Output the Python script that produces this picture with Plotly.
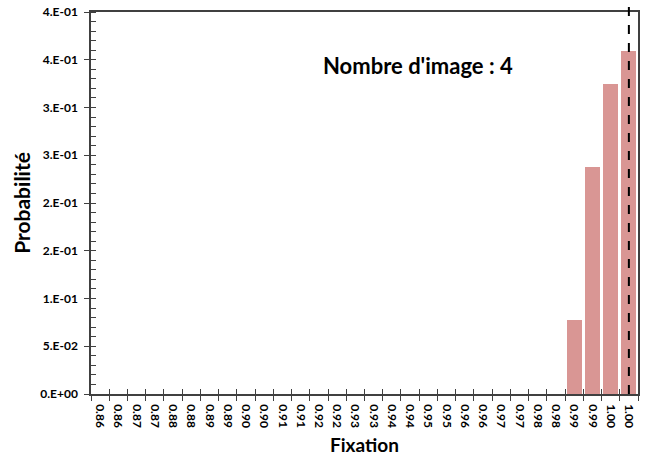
import plotly.graph_objects as go

# ---- data ----
fixation = [0.855 + 0.005 * i for i in range(30)]
fixation_labels = ["0.86", "0.86", "0.87", "0.87", "0.88", "0.88", "0.89", "0.89",
                   "0.90", "0.90", "0.91", "0.91", "0.92", "0.92", "0.93", "0.93",
                   "0.94", "0.94", "0.95", "0.95", "0.96", "0.96", "0.97", "0.97",
                   "0.98", "0.98", "0.99", "0.99", "1.00", "1.00"]
probabilite = [0.0] * 26 + [0.078, 0.2375, 0.325, 0.3595]
y_tickvals = [0, 0.05, 0.10, 0.15, 0.20, 0.25, 0.30, 0.35, 0.40]
y_ticktext = ["0.E+00", "5.E-02", "1.E-01", "2.E-01", "2.E-01", "3.E-01", "3.E-01", "4.E-01", "4.E-01"]
reference_fixation = 1.0
annotation_text = "Nombre d'image : 4"

step = 0.005
x_range = [fixation[0] - step / 2, fixation[-1] + step / 2]
boundaries = [fixation[0] - step / 2 + step * i for i in range(len(fixation) + 1)]

FONT = "Lato"
AX = "#404040"

fig = go.Figure()
fig.add_trace(go.Bar(x=fixation, y=probabilite, width=step * 0.82,
                     marker=dict(color="#d99694", line=dict(width=0)),
                     showlegend=False, hoverinfo="x+y"))
# invisible trace to anchor overlay axes
fig.add_trace(go.Scatter(x=[x_range[0]], y=[0], xaxis="x2", yaxis="y2",
                         mode="markers", marker=dict(opacity=0), showlegend=False,
                         hoverinfo="skip"))

fig.add_shape(type="line", xref="x", yref="paper", x0=reference_fixation, x1=reference_fixation,
              y0=0, y1=1.014, line=dict(color="black", width=2, dash="dash"))

fig.add_annotation(text=annotation_text, xref="paper", yref="paper", x=0.597, y=0.859,
                   xanchor="center", yanchor="middle",
                   showarrow=False, font=dict(family=FONT, size=22, color="black", weight="bold"))

fig.update_layout(
    width=650, height=463,
    margin=dict(l=91, r=12, t=12, b=69, autoexpand=False),
    paper_bgcolor="white", plot_bgcolor="white",
    bargap=0,
    xaxis=dict(range=x_range, tickmode="array", tickvals=fixation, ticktext=fixation_labels,
               tickangle=90, ticks="", showgrid=False, zeroline=False, automargin=False,
               ticklabelstandoff=6,
               showline=True, linecolor=AX, linewidth=1.5, mirror=True,
               tickfont=dict(family=FONT, size=12, color="black", weight="bold"),
               minor=dict(tickmode="array", tickvals=boundaries, ticks="outside", ticklen=5,
                          tickcolor=AX, tickwidth=1.2, showgrid=False),
               title=dict(text="Fixation", standoff=12,
                          font=dict(family=FONT, size=19, color="black", weight="bold"))),
    yaxis=dict(range=[0, 0.4], tickmode="array", tickvals=y_tickvals, ticktext=y_ticktext,
               ticks="outside", ticklen=5, tickcolor=AX, tickwidth=1.2,
               showgrid=False, zeroline=False, automargin=False, ticklabelstandoff=4,
               showline=True, linecolor=AX, linewidth=1.5, mirror=True,
               tickfont=dict(family=FONT, size=12, color="black", weight="bold"),
               minor=dict(dtick=0.01, tick0=0, ticks="inside", ticklen=5, tickcolor=AX,
                          tickwidth=1, showgrid=False),
               title=dict(text="Probabilité", standoff=4,
                          font=dict(family=FONT, size=21, color="black", weight="bold"))),
    xaxis2=dict(overlaying="x", anchor="y", side="bottom", range=x_range,
                tickmode="array", tickvals=boundaries, ticks="inside", ticklen=5,
                tickcolor=AX, tickwidth=1.2, showticklabels=False, showgrid=False,
                zeroline=False, showline=False, automargin=False),
    yaxis2=dict(overlaying="y", anchor="x", side="left", range=[0, 0.4],
                tickmode="array", tickvals=y_tickvals, ticks="inside", ticklen=5,
                tickcolor=AX, tickwidth=1.2, showticklabels=False, showgrid=False,
                zeroline=False, showline=False, automargin=False),
)

fig.write_html("out.html", config={"displayModeBar": False},
               post_script="document.body.style.margin='0';")
